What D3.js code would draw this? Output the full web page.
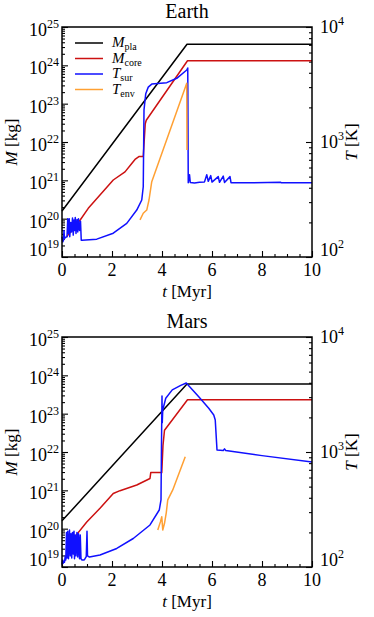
<!DOCTYPE html>
<html><head><meta charset="utf-8">
<script src="https://cdn.jsdelivr.net/npm/d3@7"></script>
<style>
body{margin:0;background:#fff}
svg{display:block}
svg text{font-family:"Liberation Serif",Times,"Times New Roman",serif}
</style>
</head><body><div id="chart"></div>
<script>
// axis ticks
var timeTicks = [0,2,4,6,8,10];
var massExp = [19,20,21,22,23,24,25];
var tempExp = [2,3,4];

// Earth  [t Myr, value]
var earthPla = [[0,1.58e20],[5,3.55e24],[10,3.55e24]];
var earthCore = [[0.19,3.4e19],[0.72,9.1e19],[1.05,1.86e20],[2.05,1.02e21],[2.52,1.66e21],[2.79,2.75e21],[2.92,3.5e21],[3.09,4.2e21],[3.25,4.2e21],[3.33,3.0e22],[3.37,3.7e22],[5.02,1.32e24],[10,1.32e24]];
var earthSur = [[0,150],[0.03,135],[0.06,140],[0.08,170],[0.1,145],[0.14,148],[0.2,150],[0.23,215],[0.26,160],[0.29,215],[0.31,150],[0.35,200],[0.38,165],[0.42,218],[0.45,155],[0.48,210],[0.5,170],[0.53,220],[0.56,160],[0.6,212],[0.63,165],[0.66,215],[0.7,170],[0.74,205],[0.77,140],
  [0.8,140],[1.39,143],[2.05,161],[2.59,196],[2.99,256],[3.19,313],[3.25,408],[3.28,1900],[3.35,2630],[3.45,3000],[3.59,3190],[4.19,3280],[4.59,3580],[4.99,4230],[5.03,4400],[5.05,443],
  [5.1,520],[5.13,445],[5.3,440],[5.5,446],[5.7,450],[5.79,520],[5.85,455],[5.95,510],[6.0,448],[6.25,500],[6.3,446],[6.45,505],[6.5,445],[6.72,500],[6.76,443],[7.5,442],[8.75,446],[8.78,442],[10,442]];
var earthEnv = [[3.12,210],[3.25,240],[3.39,256],[3.48,313],[3.59,452],[4.99,3240],[5.0,850]];

// Mars
var marsPla = [[0,1.6e20],[5,5.9e23],[10,5.9e23]];
var marsCore = [[0.52,6.2e19],[0.99,1.5e20],[1.52,3.4e20],[2.05,8.3e20],[2.32,9.8e20],[2.99,1.38e21],[3.52,2.04e21],[3.55,2.9e21],[3.99,2.9e21],[4.04,1.5e22],[4.1,3.7e22],[5.02,2.3e23],[10,2.3e23]];
var marsSur = [[0,105],[0.03,115],[0.05,108],[0.08,112],[0.1,110],[0.13,125],[0.15,115],[0.18,200],[0.2,120],[0.23,205],[0.26,118],[0.3,210],[0.33,125],[0.36,195],[0.39,120],[0.42,200],[0.45,130],[0.48,205],[0.5,118],[0.53,190],[0.56,125],[0.6,200],[0.63,122],[0.66,195],[0.7,118],[0.73,190],[0.76,118],[0.8,115],[0.88,115],[0.92,118],[0.97,123],[1.0,205],[1.02,125],
  [1.1,122],[1.52,127],[2.19,145],[2.85,177],[3.52,232],[3.89,313],[3.96,383],[3.98,1200],[4.0,3070],[4.01,1800],[4.03,2320],[4.15,2930],[4.41,3470],[4.75,3800],[4.97,3980],[5.47,3020],[5.87,2400],[6.07,2100],[6.13,1900],[6.2,1040],[6.45,1030],[6.5,1065],[6.55,1030],[8,930],[10,818]];
var marsEnv = [[3.83,210],[3.94,248],[3.99,274],[4.03,210],[4.1,240],[4.17,296],[4.23,383],[4.43,468],[4.93,910]];

var colPla="#000000", colCore="#cc1111", colSur="#1010ff", colEnv="#ffa033";

var svg = d3.select("#chart").append("svg").attr("width",374).attr("height",617);
var left=62, pw=250, ph=230;

function drawPanel(top, title, pla, core, sur, env, legend){
  var g = svg.append("g").attr("transform","translate("+left+","+top+")");
  var x = d3.scaleLinear().domain([0,10]).range([0,pw]);
  var yM = d3.scaleLog().domain([1e19,1e25]).range([ph,0]);
  var yT = d3.scaleLog().domain([100,1e4]).range([ph,0]);

  var xMinor = d3.range(0,10.01,0.5).filter(function(d){return d%2!=0;});
  var mMinor=[], tMinor=[];
  for(var e=19;e<25;e++) for(var k=2;k<10;k++) mMinor.push(k*Math.pow(10,e));
  for(var e=2;e<4;e++) for(var k=2;k<10;k++) tMinor.push(k*Math.pow(10,e));

  function ax(a, vals, size){
    g.append("g").attr("transform", a.tr||null)
      .call(a.f.tickValues(vals).tickSize(size).tickFormat(""))
      .call(function(s){s.select(".domain").remove(); s.selectAll("line").attr("stroke","#000").attr("stroke-width",1.1);});
  }
  ax({f:d3.axisBottom(x),tr:"translate(0,"+ph+")"}, xMinor, -3);
  ax({f:d3.axisBottom(x),tr:"translate(0,"+ph+")"}, timeTicks, -6);
  ax({f:d3.axisLeft(yM)}, mMinor, -3);
  ax({f:d3.axisLeft(yM)}, massExp.map(function(e){return Math.pow(10,e);}), -6);
  ax({f:d3.axisRight(yT),tr:"translate("+pw+",0)"}, tMinor, -3);
  ax({f:d3.axisRight(yT),tr:"translate("+pw+",0)"}, tempExp.map(function(e){return Math.pow(10,e);}), -6);

  var line = function(ys){
    return d3.line().x(function(d){return x(d[0]);}).y(function(d){return ys(d[1]);});
  };
  [[pla,yM,colPla],[core,yM,colCore],[sur,yT,colSur],[env,yT,colEnv]].forEach(function(s){
    g.append("path").datum(s[0]).attr("d",line(s[1])).attr("fill","none")
      .attr("stroke",s[2]).attr("stroke-width",1.5).attr("stroke-linejoin","round");
  });

  g.append("rect").attr("width",pw).attr("height",ph).attr("fill","none")
    .attr("stroke","#000").attr("stroke-width",1.5);

  // tick labels
  massExp.forEach(function(e,i){
    var yy = yM(Math.pow(10,e)) + (i==0 ? -1 : 9);
    var t = g.append("text").attr("x",-3).attr("y",yy).attr("text-anchor","end").attr("font-size",18);
    t.append("tspan").text("10");
    t.append("tspan").attr("dy",-8).attr("font-size",12).text(e);
  });
  tempExp.forEach(function(e,i){
    var yy = yT(Math.pow(10,e)) + (i==0 ? -1 : 6);
    var t = g.append("text").attr("x",pw+8).attr("y",yy).attr("font-size",18);
    t.append("tspan").text("10");
    t.append("tspan").attr("dy",-8).attr("font-size",12).text(e);
  });
  timeTicks.forEach(function(d){
    g.append("text").attr("x",x(d)).attr("y",ph+19).attr("text-anchor","middle")
      .attr("font-size",18).text(d);
  });

  // axis titles
  var xt = g.append("text").attr("x",pw/2).attr("y",ph+40).attr("text-anchor","middle").attr("font-size",17);
  xt.append("tspan").attr("font-style","italic").text("t");
  xt.append("tspan").text(" [Myr]");
  var ml = g.append("text").attr("transform","translate(-45,"+(ph/2)+") rotate(-90)").attr("text-anchor","middle").attr("font-size",17);
  ml.append("tspan").attr("font-style","italic").text("M");
  ml.append("tspan").text(" [kg]");
  var tl = g.append("text").attr("transform","translate("+(pw+45)+","+(ph/2)+") rotate(-90)").attr("text-anchor","middle").attr("font-size",17);
  tl.append("tspan").attr("font-style","italic").text("T");
  tl.append("tspan").text(" [K]");

  g.append("text").attr("x",pw/2).attr("y",-9).attr("text-anchor","middle").attr("font-size",20).text(title);

  if(legend){
    var items = [["M","pla",colPla],["M","core",colCore],["T","sur",colSur],["T","env",colEnv]];
    items.forEach(function(it,i){
      var yy = 16 + i*15.5;
      g.append("line").attr("x1",13).attr("x2",41).attr("y1",yy).attr("y2",yy)
        .attr("stroke",it[2]).attr("stroke-width",1.5);
      var t = g.append("text").attr("x",50).attr("y",yy+4).attr("font-size",15);
      t.append("tspan").attr("font-style","italic").text(it[0]);
      t.append("tspan").attr("dy",3).attr("font-size",10).text(it[1]);
    });
  }
}

drawPanel(27, "Earth", earthPla, earthCore, earthSur, earthEnv, true);
drawPanel(337, "Mars", marsPla, marsCore, marsSur, marsEnv, false);
</script></body></html>
